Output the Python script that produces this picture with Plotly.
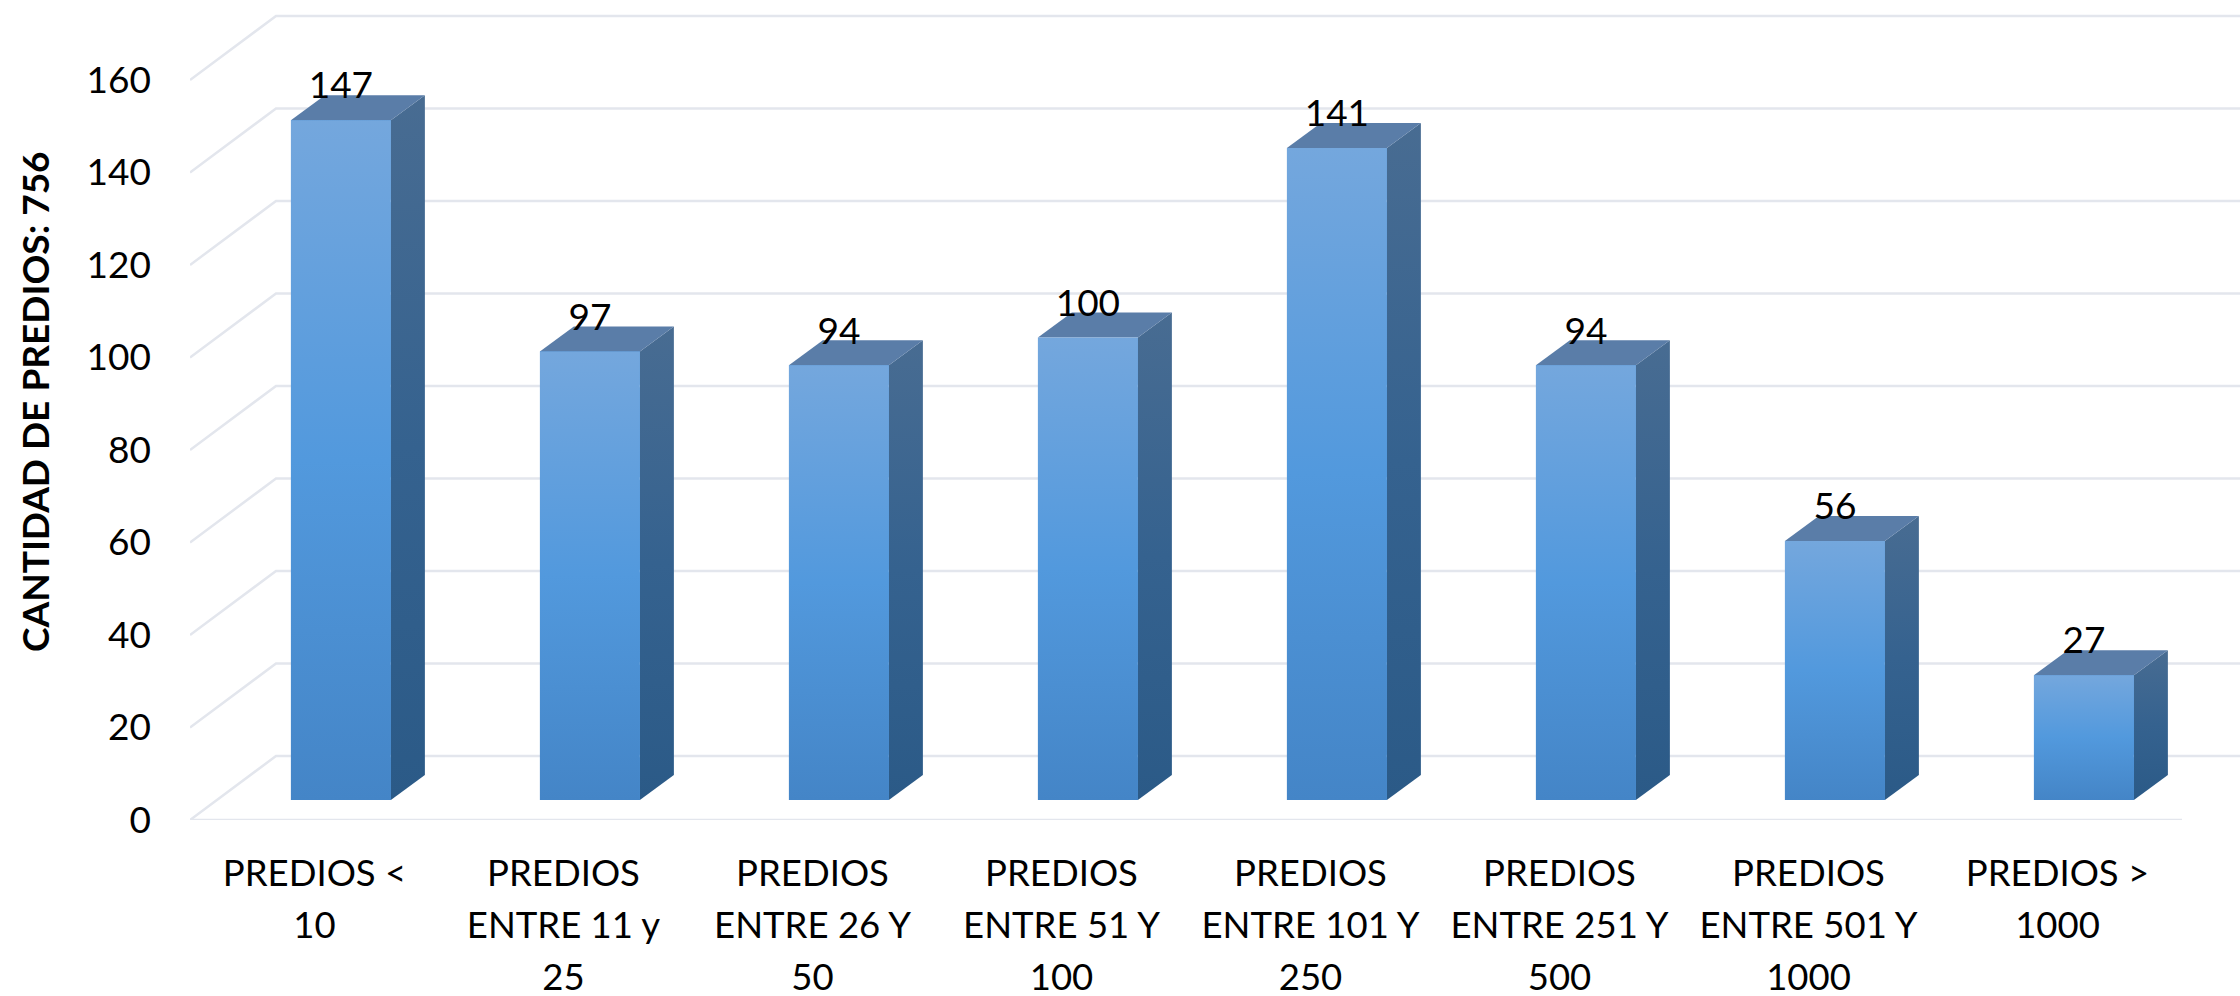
import plotly.graph_objects as go

categories = [["PREDIOS <", "10"], ["PREDIOS", "ENTRE 11 y", "25"], ["PREDIOS", "ENTRE 26 Y", "50"],
              ["PREDIOS", "ENTRE 51 Y", "100"], ["PREDIOS", "ENTRE 101 Y", "250"], ["PREDIOS", "ENTRE 251 Y", "500"],
              ["PREDIOS", "ENTRE 501 Y", "1000"], ["PREDIOS >", "1000"]]
values = [147, 97, 94, 100, 141, 94, 56, 27]
y_ticks = [0, 20, 40, 60, 80, 100, 120, 140, 160]
axis_title = "CANTIDAD DE PREDIOS: 756"

W, H = 2240, 996
L, R, T, B = 190, 0, 0, 176
CAT_PX = 249.0
Y_PX = 4.625
FONT = "Lato"

x_range = [-0.5, -0.5 + (W - L - R) / CAT_PX]
y_range = [0, (H - T - B) / Y_PX]

bar_w = 100 / CAT_PX
bar_cx = 0.106
bar_base = 20 / Y_PX
dep_x = 34 / CAT_PX
dep_y = 25 / Y_PX
wall_x = 86 / CAT_PX
wall_y = 64 / Y_PX
GRID = "#e3e6ed"

ticktext = ["<br>".join('<span style="font-size:36.5px">%s</span>' % ln for ln in c) for c in categories]

fig = go.Figure()
xs = list(range(len(values)))

fig.add_trace(go.Bar(x=[i + bar_cx for i in xs], y=values, base=[bar_base] * len(values), width=bar_w,
                     marker=dict(color="#5299dd", line=dict(width=0)), showlegend=False, hoverinfo="y"))

# side wall + back wall gridlines
for v in y_ticks:
    fig.add_trace(go.Scatter(x=[-0.5, -0.5 + wall_x, x_range[1]], y=[v, v + wall_y, v + wall_y],
                             mode="lines", line=dict(color=GRID, width=2.5), showlegend=False, hoverinfo="skip"))
# front floor edge
fig.add_trace(go.Scatter(x=[-0.5, 7.5], y=[0, 0], mode="lines", line=dict(color=GRID, width=2.5),
                         showlegend=False, hoverinfo="skip", cliponaxis=False))

front_scale = [[0, "#4485c7"], [0.5, "#5299dd"], [1, "#74a7dd"]]
side_scale = [[0, "#2b5a87"], [0.5, "#35628f"], [1, "#486c92"]]
for i, v in zip(xs, values):
    x0 = i + bar_cx - bar_w / 2
    x1 = i + bar_cx + bar_w / 2
    y0 = bar_base
    y1 = bar_base + v
    fig.add_trace(go.Scatter(x=[x1, x1 + dep_x, x1 + dep_x, x1, x1], y=[y0, y0 + dep_y, y1 + dep_y, y1, y0],
                             mode="lines", line=dict(width=0), fill="toself",
                             fillgradient=dict(type="vertical", colorscale=side_scale),
                             showlegend=False, hoverinfo="skip"))
    fig.add_trace(go.Scatter(x=[x0, x1, x1 + dep_x, x0 + dep_x, x0], y=[y1, y1, y1 + dep_y, y1 + dep_y, y1],
                             mode="lines", line=dict(width=0), fill="toself", fillcolor="#5a7da8",
                             showlegend=False, hoverinfo="skip"))
    fig.add_trace(go.Scatter(x=[x0, x1, x1, x0, x0], y=[y0, y0, y1, y1, y0],
                             mode="lines", line=dict(width=0), fill="toself",
                             fillgradient=dict(type="vertical", colorscale=front_scale),
                             showlegend=False, hoverinfo="skip"))

fig.add_trace(go.Scatter(x=[i + bar_cx for i in xs], y=[bar_base + v + 31 / Y_PX for v in values],
                         mode="text", text=[str(v) for v in values], textposition="middle center",
                         textfont=dict(family=FONT, size=37, color="#000000"),
                         showlegend=False, hoverinfo="skip"))

fig.add_annotation(text="<b>%s</b>" % axis_title, xref="paper", yref="paper", textangle=-90,
                   x=(34 - L) / (W - L - R), y=(H - B - 402) / (H - T - B), showarrow=False,
                   xanchor="center", yanchor="middle",
                   font=dict(family=FONT, size=37, color="#000000"))

fig.update_layout(
    width=W, height=H, margin=dict(l=L, r=R, t=T, b=B, pad=0), autosize=False,
    paper_bgcolor="#ffffff", plot_bgcolor="#ffffff", showlegend=False, bargap=0,
    font=dict(family=FONT, size=36, color="#000000"),
    xaxis=dict(range=x_range, tickmode="array", tickvals=xs, ticktext=ticktext, showgrid=False, automargin=False,
               zeroline=False, showline=False, ticks="", tickangle=0, ticklabelstandoff=25,
               tickfont=dict(family=FONT, size=40, color="#000000")),
    yaxis=dict(range=y_range, tickmode="array", tickvals=y_ticks, showgrid=False, zeroline=False, automargin=False,
               showline=False, ticks="", ticklabelstandoff=38,
               tickfont=dict(family=FONT, size=37, color="#000000")),
)

fig.write_html("out.html", config={"displayModeBar": False}, post_script="document.body.style.margin='0';")
